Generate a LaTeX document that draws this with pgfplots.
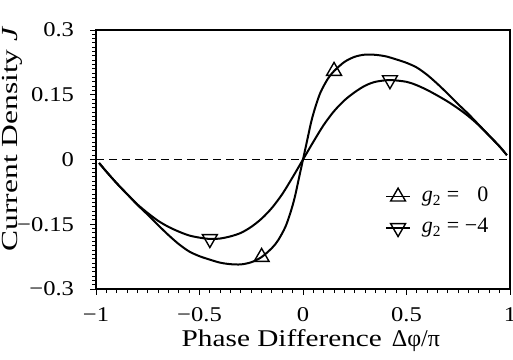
\documentclass[border=0pt]{standalone}
\usepackage{fontspec}
\setmainfont{Liberation Serif}
\usepackage{graphicx}
\usepackage{pgfplots}
\usepackage{pgfplotstable}
\pgfplotsset{compat=1.18}
\newcommand{\sx}[1]{\scalebox{1.17}[1]{#1}}
\pgfplotstableread{
x y
-0.985 -0.008
-0.95 -0.028
-0.9 -0.055
-0.85 -0.080
-0.8 -0.105
-0.75 -0.128
-0.7 -0.152
-0.65 -0.175
-0.6 -0.196
-0.55 -0.213
-0.5 -0.224
-0.45 -0.232
-0.4 -0.239
-0.35 -0.2425
-0.3 -0.243
-0.25 -0.238
-0.2 -0.226
-0.15 -0.205
-0.12 -0.187
-0.085 -0.156
-0.06 -0.122
-0.04 -0.088
-0.02 -0.044
0 0
0.02 0.044
0.04 0.088
0.06 0.122
0.085 0.156
0.12 0.187
0.15 0.205
0.2 0.226
0.25 0.238
0.3 0.243
0.35 0.2425
0.4 0.239
0.45 0.232
0.5 0.224
0.55 0.213
0.6 0.196
0.65 0.175
0.7 0.152
0.75 0.128
0.8 0.105
0.85 0.080
0.9 0.055
0.95 0.030
0.985 0.010
}\gzero
\pgfplotstableread{
x y
-0.985 -0.008
-0.95 -0.028
-0.9 -0.055
-0.85 -0.080
-0.8 -0.104
-0.75 -0.124
-0.7 -0.142
-0.65 -0.156
-0.6 -0.167
-0.55 -0.176
-0.5 -0.181
-0.45 -0.184
-0.4 -0.183
-0.35 -0.178
-0.3 -0.170
-0.25 -0.156
-0.2 -0.137
-0.15 -0.112
-0.1 -0.080
-0.05 -0.041
0 0
0.05 0.041
0.1 0.080
0.15 0.112
0.2 0.137
0.25 0.156
0.3 0.171
0.35 0.180
0.42 0.184
0.5 0.180
0.55 0.172
0.6 0.161
0.65 0.148
0.7 0.134
0.75 0.118
0.8 0.100
0.85 0.079
0.9 0.055
0.95 0.030
0.985 0.010
}\gfour
\pgfplotstableread{
x y
-0.2 -0.226
0.15 0.205
}\markzero
\pgfplotstableread{
x y
-0.45 -0.184
0.42 0.184
}\markfour
\begin{document}
\begin{tikzpicture}
\useasboundingbox (-48pt,-35pt) rectangle (208.5pt,144.5pt);
\begin{axis}[
  at={(0,0)}, anchor=south west,
  scale only axis, width=207pt, height=129.5pt,
  xmin=-1, xmax=1, ymin=-0.3, ymax=0.3,
  axis line style={line width=0.8pt},
  xtick={-1,-0.5,0,0.5,1}, xticklabels={\sx{−1},\sx{−0.5},\sx{0},\sx{0.5},\sx{1}},
  ytick={-0.3,-0.15,0,0.15,0.3}, yticklabels={\sx{−0.3},\sx{−0.15},\sx{0},\sx{0.15},\sx{0.3}},
  minor x tick num=9, minor y tick num=14,
  tick align=outside, tick pos=left,
  major tick length=2.8pt, minor tick length=2pt,
  tick style={line width=0.5pt, black},
  ticklabel style={font=\fontsize{10.5}{12}\selectfont},
  xticklabel style={inner sep=0pt, anchor=north, yshift=-6.5pt},
  yticklabel style={inner sep=0pt, anchor=east, xshift=-8pt},
  xlabel={\scalebox{1.22}[1]{Phase Difference}\hspace{5pt}Δφ/π},
  ylabel={\scalebox{1.37}[1]{Current Density \textit{J}}},
  xlabel style={font=\fontsize{12}{14}\selectfont, at={([yshift=-28.9pt]axis description cs:0.519,0)}, anchor=base},
  ylabel style={font=\fontsize{11.5}{13}\selectfont, at={([xshift=-42pt]axis description cs:0,0.58)}, anchor=center},
  legend style={draw=none, fill=none, at={(axis description cs:0.698,0.296)}, anchor=west,
    inner sep=0pt, row sep=6.6pt, column sep=5.5pt,
    font=\fontsize{11}{13}\selectfont,
    nodes={inner sep=0pt, text height=7pt, text depth=2pt}},
  legend cell align=left,
  legend image code/.code={\draw[mark repeat=2,mark phase=2,#1] plot coordinates {(0pt,0pt) (6pt,0pt) (12pt,0pt)};},
]
\addplot[black, dashed, dash pattern=on 4pt off 2.5pt, line width=0.5pt, forget plot] coordinates {(-1,0) (1,0)};
\addplot[black, line width=1pt, smooth, tension=0.5, forget plot] table {\gzero};
\addplot[black, line width=1pt, smooth, tension=0.5, forget plot] table {\gfour};
\addplot[only marks, mark=triangle, mark size=4.3pt, mark options={black, fill=white, line width=0.7pt}, forget plot] table {\markzero};
\addplot[only marks, mark=triangle, mark size=4.3pt, mark options={black, fill=white, line width=0.7pt, rotate=180}, forget plot] table {\markfour};
\addlegendimage{black, line width=0.7pt, mark=triangle, mark size=4.3pt, mark options={fill=white}}
\addlegendentry{\textit{g}\textsubscript{2} = \phantom{−}0}
\addlegendimage{black, line width=0.7pt, mark=triangle, mark size=4.3pt, mark options={fill=white, rotate=180}}
\addlegendentry{\textit{g}\textsubscript{2} = −4}
\node[anchor=base west, font=\fontsize{9.6}{11}\selectfont, xshift=-0.5pt, yshift=5.8pt] at (rel axis cs:0,1) {\scalebox{1.08}[1]{Case: \textit{g}\textsubscript{1} = 1, \textit{g}\textsubscript{3} = 0}};
\end{axis}
\end{tikzpicture}
\end{document}
